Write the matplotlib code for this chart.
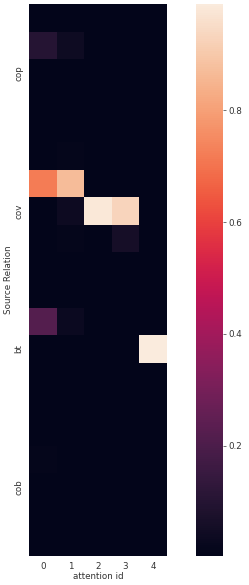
import numpy as np
import matplotlib
matplotlib.use("Agg")
import matplotlib.pyplot as plt
import seaborn as sns

attention_ids = [0, 1, 2, 3, 4]
relations = ["cop", "cov", "bt", "cob"]

# attention weights, 20 source rows x 5 attention heads
col0 = [0.004, 0.10, 0.004, 0.004, 0.004, 0.006, 0.72, 0.004, 0.006, 0.004,
        0.004, 0.22, 0.004, 0.004, 0.004, 0.004, 0.012, 0.004, 0.004, 0.004]
col1 = [0.004, 0.04, 0.004, 0.004, 0.004, 0.014, 0.87, 0.035, 0.012, 0.004,
        0.004, 0.03, 0.004, 0.004, 0.004, 0.004, 0.005, 0.004, 0.004, 0.004]
col2 = [0.003, 0.004, 0.003, 0.003, 0.003, 0.004, 0.004, 0.98, 0.005, 0.003,
        0.003, 0.004, 0.003, 0.003, 0.003, 0.003, 0.003, 0.003, 0.003, 0.003]
col3 = [0.003, 0.004, 0.003, 0.003, 0.003, 0.004, 0.004, 0.93, 0.06, 0.003,
        0.003, 0.004, 0.003, 0.003, 0.003, 0.003, 0.003, 0.003, 0.003, 0.003]
col4 = [0.003, 0.003, 0.003, 0.003, 0.003, 0.003, 0.003, 0.004, 0.004, 0.003,
        0.003, 0.003, 0.99, 0.003, 0.003, 0.003, 0.003, 0.003, 0.003, 0.003]

data = np.column_stack([col0, col1, col2, col3, col4])

fs = 6.3
txt = "0.2"

fig = plt.figure(figsize=(2.49, 5.85), dpi=100)
ax = fig.add_axes([29 / 249, 29 / 585, 138 / 249, 552 / 585])
cax = fig.add_axes([196 / 249, 29 / 585, 27 / 249, 552 / 585])

sns.heatmap(data, ax=ax, cbar_ax=cax, xticklabels=attention_ids,
            yticklabels=False)
n_rows = data.shape[0]
step = n_rows // len(relations)
ax.set_yticks([i * step + step / 2 for i in range(len(relations))])
ax.set_yticklabels(relations, rotation=90, va="center")
ax.tick_params(axis="both", length=0, labelsize=fs, labelcolor=txt, pad=4)
ax.set_xlabel("attention id", fontsize=fs, color=txt, labelpad=1)
ax.set_ylabel("Source Relation", fontsize=fs, color=txt, labelpad=1)
cax.tick_params(labelsize=fs, labelcolor=txt, length=2, width=0.6,
                color="0.35", pad=2)

fig.savefig("out.png", dpi=100)
